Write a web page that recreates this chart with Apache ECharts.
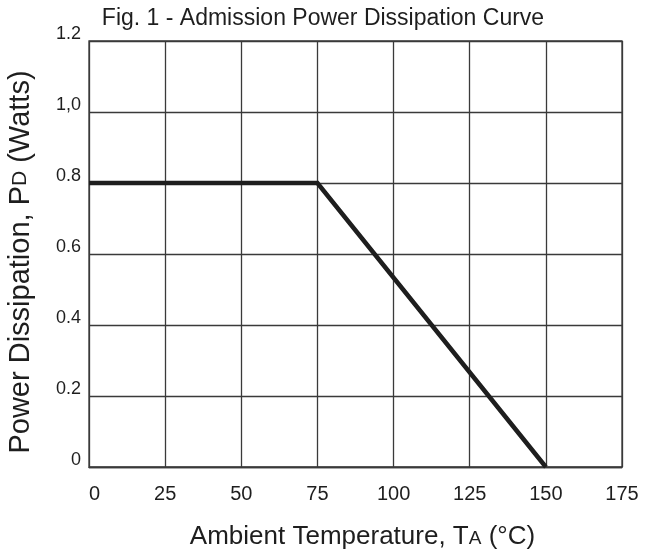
<!DOCTYPE html>
<html>
<head>
<meta charset="utf-8">
<script src="https://cdn.jsdelivr.net/npm/echarts@6/dist/echarts.min.js"></script>
<style>
  html, body { margin: 0; padding: 0; background: #fff; }
  #chart { width: 646px; height: 552px; }
</style>
</head>
<body>
<div id="chart"></div>
<script>
  // curve points: ambient temperature (°C) vs power dissipation (W)
  const temps = [0, 75, 150];
  const power = [0.8, 0.8, 0];
  const yTickLabels = { "0": "0", "0.2": "0.2", "0.4": "0.4", "0.6": "0.6", "0.8": "0.8", "1": "1,0", "1.2": "1.2" };

  const FONT = "'Liberation Sans', Arial, sans-serif";
  const INK = "#1e1e1e";
  const GRID = "#3a3a3a";

  const chart = echarts.init(document.getElementById("chart"), null, { renderer: "canvas" });
  chart.setOption({
    animation: false,
    title: {
      text: "Fig. 1 - Admission Power Dissipation Curve",
      left: 318, top: 2, textAlign: "center",
      textStyle: { color: INK, fontFamily: FONT, fontSize: 23, fontWeight: "normal" }
    },
    grid: {
      left: 89, right: 24, top: 41, bottom: 85,
      outerBoundsMode: "none",
      show: true, borderColor: GRID, borderWidth: 1.3
    },
    xAxis: {
      type: "value", min: 0, max: 175, interval: 25,
      name: "{n|Ambient Temperature, T}{s|A}{n| (°C)}",
      nameLocation: "middle", nameGap: 57,
      nameTextStyle: {
        padding: [0, 0, 0, 14],
        rich: {
          n: { fontFamily: FONT, fontSize: 26, color: INK },
          s: { fontFamily: FONT, fontSize: 19, color: INK, padding: [4, 0, 0, 0] }
        }
      },
      axisLine: { show: true, lineStyle: { color: GRID, width: 1.3 } },
      axisTick: { show: false },
      axisLabel: { color: INK, fontFamily: FONT, fontSize: 20, margin: 17, alignMinLabel: "left" },
      splitLine: { show: true, lineStyle: { color: GRID, width: 1.3 } }
    },
    yAxis: {
      type: "value", min: 0, max: 1.2, interval: 0.2,
      name: "{n|Power Dissipation, P}{s|D}{n| (Watts)}",
      nameLocation: "middle", nameGap: 54, nameRotate: 90,
      nameTextStyle: {
        padding: [0, 16, 0, 0],
        rich: {
          n: { fontFamily: FONT, fontSize: 29, color: INK },
          s: { fontFamily: FONT, fontSize: 21, color: INK }
        }
      },
      axisLine: { show: false },
      axisTick: { show: false },
      axisLabel: {
        color: INK, fontFamily: FONT, fontSize: 18, margin: 8,
        verticalAlign: "bottom", lineHeight: 14,
        formatter: (v) => yTickLabels[String(Math.round(v * 10) / 10)] || ""
      },
      splitLine: { show: true, lineStyle: { color: GRID, width: 1.3 } }
    },
    series: [{
      type: "line",
      data: temps.map((t, i) => [t, power[i]]),
      symbol: "none",
      lineStyle: { color: INK, width: 4.5, join: "miter" }
    }]
  });
</script>
</body>
</html>
